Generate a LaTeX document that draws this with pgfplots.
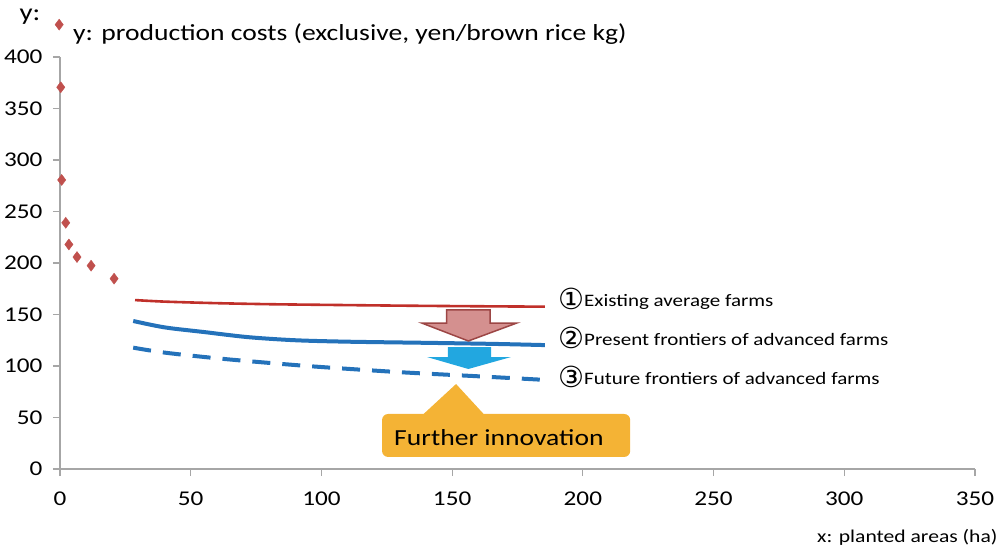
\documentclass[border=0pt]{standalone}
\usepackage{pgfplots}
\pgfplotsset{compat=1.18}
\usepackage{fontspec}
\setmainfont{Carlito}[FakeStretch=1.2]
\newfontfamily\sym{DejaVu Sans}
\newcommand{\circnum}[1]{\raisebox{-3pt}{\sym\fontsize{29}{30}\selectfont #1}}
\definecolor{ptred}{HTML}{C0504D}
\definecolor{linered}{HTML}{C0302A}
\definecolor{lineblue}{HTML}{2472BA}
\definecolor{arrowpink}{HTML}{D4908F}
\definecolor{arrowbord}{HTML}{9C4645}
\definecolor{arrowblue}{HTML}{22A7E0}
\definecolor{callout}{HTML}{F4B335}
\definecolor{axisgray}{HTML}{A6A6A6}
\begin{document}
\begin{tikzpicture}[x=1pt,y=1pt]
\useasboundingbox (-60,-80) rectangle (937,469);
\begin{axis}[
  at={(0,0)}, anchor=south west,
  scale only axis, width=915pt, height=412pt,
  xmin=0, xmax=350, ymin=0, ymax=400,
  axis x line*=bottom, axis y line*=left,
  axis line style={draw=axisgray, line width=1.2pt},
  xtick={0,50,...,350}, ytick={0,50,...,400},
  tick align=outside, major tick length=7pt,
  tick style={draw=axisgray, line width=1.2pt},
  minor tick num=0,
  ticklabel style={font=\fontsize{21}{25}\selectfont},
  /pgf/number format/assume math mode=true,
  xticklabel style={yshift=-12pt},
  yticklabel style={xshift=-7pt},
  clip=false,
  legend style={draw=none, fill=none, at={(rel axis cs:0,1)}, anchor=south west,
    xshift=-7pt, yshift=13pt, font=\fontsize{23}{27}\selectfont,
    inner sep=0pt},
  legend cell align=left,
  legend image code/.code={\path[draw=none,fill=none] (-6pt,0pt) -- (12pt,0pt); \draw[#1] plot coordinates {(0pt,8pt)};},
]
\addplot[only marks, mark=diamond*, mark size=5.5pt, color=ptred]
  coordinates {(0.3,370.6) (0.65,280.6) (2.2,239) (3.4,218) (6.5,205.8) (11.9,197.4) (20.7,184.8)};
\addlegendentry{y: production costs (exclusive, yen/brown rice kg)}
\addplot[linered, line width=2.6pt, smooth, forget plot]
  coordinates {(28.7,164) (40,162.5) (60,161) (80,160) (100,159.4) (130,158.6) (160,158) (185.5,157.6)};
\addplot[lineblue, line width=4pt, smooth, forget plot]
  coordinates {(28,143.7) (40,137.5) (55,133) (72,128) (90,125) (110,123.6) (140,122.5) (165,121.5) (185.5,120.3)};
\addplot[lineblue, line width=4pt, dash pattern=on 18pt off 12pt, smooth, forget plot]
  coordinates {(28,117.8) (40,113) (60,107.5) (80,103) (100,99) (130,94) (160,90) (185.5,86.5)};
% arrows and annotations
\fill[arrowpink, draw=arrowbord, line width=1.5pt]
  (axis cs:147.9,154.4) -- (axis cs:164.5,154.4) -- (axis cs:164.5,141.7) -- (axis cs:174.7,141.7)
  -- (axis cs:156.2,124.3) -- (axis cs:138.4,141.7) -- (axis cs:147.9,141.7) -- cycle;
\fill[arrowblue]
  (axis cs:148.4,118.4) -- (axis cs:164.9,118.4) -- (axis cs:164.9,108.7) -- (axis cs:172.5,108.7)
  -- (axis cs:156.2,97.1) -- (axis cs:140.4,108.7) -- (axis cs:148.4,108.7) -- cycle;
\fill[callout] (axis cs:138.9,53) -- (axis cs:151.5,82.5) -- (axis cs:162.2,53) -- cycle;
\fill[callout, rounded corners=6pt] (axis cs:123.2,11.7) rectangle (axis cs:218.1,53.4);
\node[anchor=west, font=\fontsize{23}{27}\selectfont] at (axis cs:126.5,30.5) {Further innovation};
\node[anchor=west, font=\fontsize{17.5}{22}\selectfont, inner sep=0pt] at (axis cs:190.5,165) {\circnum{①}Existing average farms};
\node[anchor=west, font=\fontsize{17.5}{22}\selectfont, inner sep=0pt] at (axis cs:190.5,127) {\circnum{②}Present frontiers of advanced farms};
\node[anchor=west, font=\fontsize{17.5}{22}\selectfont, inner sep=0pt] at (axis cs:190.5,89) {\circnum{③}Future frontiers of advanced farms};
\node[font=\fontsize{24}{28}\selectfont] at ([xshift=-30pt,yshift=40pt]rel axis cs:0,1) {y:};
\node[anchor=east, font=\fontsize{18}{22}\selectfont] at ([xshift=26pt,yshift=-68pt]rel axis cs:1,0) {x: planted areas (ha)};
\end{axis}
\end{tikzpicture}
\end{document}
